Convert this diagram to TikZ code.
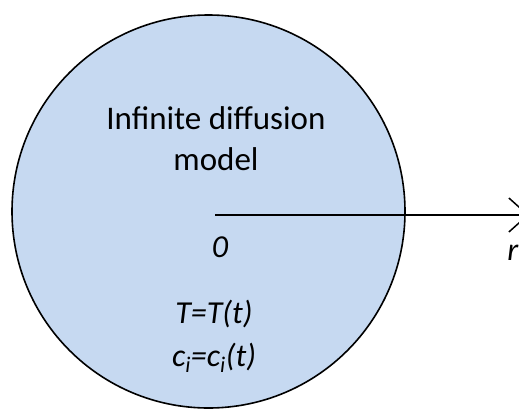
\documentclass[tikz,border=0pt]{standalone}
\usepackage{fontspec}
\setmainfont{Carlito}
\usetikzlibrary{arrows.meta, positioning}

\definecolor{domainblue}{HTML}{C6D9F1}

\begin{document}
\begin{tikzpicture}[x=1pt, y=-1pt,
    spherebox/.style={draw, circle, line width=1.6pt, fill=domainblue,
                      minimum size=393pt, inner sep=0pt},
    labeltext/.style={font=\fontsize{32}{40}\selectfont\itshape, inner sep=0pt},
    axisline/.style={line width=1.5pt, -{Straight Barb[length=19pt, width=34pt]}}]
  \useasboundingbox (0,0) rectangle (519,410);

  % spherical domain
  \node[spherebox] (sphere) at (208.5,211.5) {};
  \node[font=\fontsize{33}{41}\selectfont, align=center, inner sep=0pt]
    (title) at (216,139) {Infinite diffusion\\model};

  % radial axis
  \coordinate (o) at (215,215);
  \coordinate (rend) at (529,215);
  \draw[axisline] (o) -- (rend);

  % labels
  \node[labeltext, anchor=base east] (r) at (518.5,260) {r};
  \node[labeltext, anchor=base] (zero) at (220,257) {0};
  \node[labeltext, anchor=base] (temp) at (214,323) {T=T(t)};
  \node[labeltext, anchor=base] (conc) at (214,366)
    {c\textsubscript{i}=c\textsubscript{i}(t)};
\end{tikzpicture}
\end{document}
